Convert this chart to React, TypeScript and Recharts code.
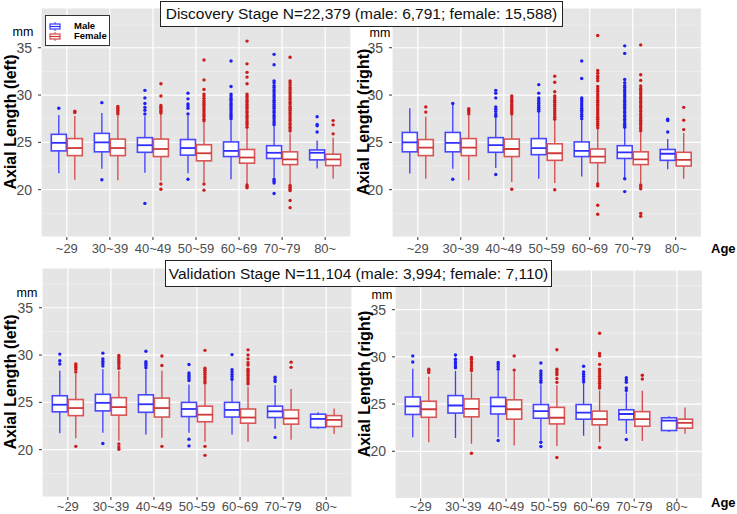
import React from 'react';
import { ComposedChart, Bar, XAxis, YAxis, CartesianGrid } from 'recharts';

const AGES = ['~29', '30~39', '40~49', '50~59', '60~69', '70~79', '80~'];
const Y_TICKS = [20, 25, 30, 35];
const Y_MINOR = [17.5, 22.5, 27.5, 32.5, 37.5];
const Y_DOMAIN = [15, 39.2];

// box stats per age group: [lower whisker, Q1, median, Q3, upper whisker]
const DISC_LEFT_MALE = [
  [21.75, 24.1, 24.95, 25.85, 27.9],
  [22.2, 24.0, 25.0, 25.95, 28.1],
  [21.8, 23.95, 24.7, 25.5, 27.75],
  [21.75, 23.65, 24.4, 25.3, 27.8],
  [21.1, 23.5, 24.1, 25.05, 27.3],
  [21.3, 23.3, 23.9, 24.65, 26.7],
  [22.25, 23.15, 23.9, 24.2, 25.2],
];
const DISC_LEFT_MALE_OUT = [
  [28.6],
  [29.2, 21.05],
  [30.5, 29.7, 29.1, 28.7, 28.4, 28.0, 18.55],
  [30.2, 29.6, 29.05, 28.85, 28.6, 28.0, 21.1],
  [33.6, 30.9, 30.1, 29.9, 29.65, 29.45, 29.2, 29.0, 28.8, 28.55, 28.35, 28.1, 27.9, 27.7, 27.5],
  [34.3, 33.2, 31.5, 31.3, 31.0, 30.8, 30.55, 30.35, 30.1, 29.9, 29.7, 29.45, 29.25, 29.0, 28.8, 28.6, 28.35, 28.15, 27.9, 27.7, 27.5, 27.25, 27.05, 26.85, 21.1, 20.9, 20.7, 19.6],
  [27.7, 26.9, 26.75, 26.1],
];
const DISC_LEFT_FEMALE = [
  [21.05, 23.6, 24.4, 25.4, 27.8],
  [21.0, 23.6, 24.4, 25.35, 27.8],
  [20.95, 23.5, 24.3, 25.35, 28.0],
  [20.8, 23.05, 23.85, 24.75, 27.05],
  [20.6, 22.8, 23.4, 24.25, 26.4],
  [20.6, 22.65, 23.2, 24.0, 25.95],
  [21.15, 22.55, 23.2, 23.75, 25.5],
];
const DISC_LEFT_FEMALE_OUT = [
  [28.3, 28.15],
  [28.8, 28.6, 28.4, 28.2, 28.0],
  [31.2, 29.9, 28.9, 28.7, 28.5, 28.3, 28.1, 20.6, 20.05],
  [33.7, 31.6, 30.6, 30.1, 29.9, 29.65, 29.4, 29.2, 29.0, 28.8, 28.55, 28.35, 28.1, 27.9, 27.7, 27.45, 27.25, 20.6, 19.95],
  [35.7, 33.3, 32.4, 31.9, 31.2, 30.1, 29.9, 29.7, 29.45, 29.25, 29.0, 28.8, 28.6, 28.35, 28.15, 27.9, 27.7, 27.5, 27.25, 27.05, 26.85, 26.6, 20.5, 20.3, 20.2],
  [34.0, 31.5, 31.3, 31.05, 30.8, 30.6, 30.35, 30.15, 29.9, 29.7, 29.5, 29.25, 29.05, 28.8, 28.6, 28.4, 28.15, 27.95, 27.7, 27.5, 27.3, 27.05, 26.85, 26.6, 26.4, 26.2, 20.45, 20.25, 20.05, 19.9, 18.85, 18.1],
  [27.3, 26.85, 25.9],
];

const DISC_RIGHT_MALE = [
  [21.7, 24.0, 25.0, 26.05, 28.6],
  [22.2, 24.0, 24.95, 26.05, 28.95],
  [22.3, 23.95, 24.7, 25.5, 27.6],
  [21.15, 23.7, 24.4, 25.4, 28.15],
  [21.4, 23.5, 24.1, 25.05, 27.3],
  [21.35, 23.3, 23.95, 24.65, 26.5],
  [22.15, 23.1, 23.8, 24.25, 25.35],
];
const DISC_RIGHT_MALE_OUT = [
  [],
  [29.1, 21.1],
  [30.5, 30.2, 29.7, 28.75, 28.5, 28.25, 27.95, 27.75, 21.6],
  [31.1, 30.2, 29.7, 29.5, 29.3, 29.1, 28.9, 28.7, 28.5, 28.3],
  [33.6, 31.75, 29.7, 29.5, 29.3, 29.05, 28.85, 28.6, 28.4, 28.2, 27.95, 27.75, 27.5],
  [35.2, 34.4, 31.65, 31.3, 31.0, 30.8, 30.55, 30.35, 30.1, 29.9, 29.7, 29.45, 29.25, 29.0, 28.8, 28.6, 28.35, 28.15, 27.9, 27.7, 27.45, 27.25, 27.0, 26.8, 26.6, 21.15, 19.8],
  [27.45, 27.3, 26.1],
];
const DISC_RIGHT_FEMALE = [
  [21.15, 23.6, 24.45, 25.3, 27.7],
  [21.0, 23.6, 24.45, 25.4, 27.85],
  [20.8, 23.5, 24.3, 25.35, 27.85],
  [20.7, 23.1, 23.85, 24.85, 27.3],
  [20.7, 22.85, 23.5, 24.3, 26.4],
  [20.65, 22.65, 23.2, 24.0, 26.0],
  [21.15, 22.5, 23.15, 23.95, 26.0],
];
const DISC_RIGHT_FEMALE_OUT = [
  [28.75, 28.2],
  [28.55, 28.4, 28.2, 28.0],
  [29.9, 29.7, 29.45, 29.25, 29.0, 28.8, 28.6, 28.4, 28.2, 28.0, 20.05],
  [32.0, 31.35, 30.35, 29.9, 29.7, 29.45, 29.25, 29.0, 28.8, 28.55, 28.35, 28.1, 27.9, 27.65, 27.45, 20.0],
  [36.3, 32.6, 32.3, 32.0, 31.75, 31.5, 30.9, 30.65, 30.4, 30.15, 29.9, 29.7, 29.45, 29.25, 29.0, 28.8, 28.55, 28.35, 28.1, 27.9, 27.65, 27.45, 27.2, 27.0, 26.8, 26.55, 20.6, 20.4, 18.35, 17.4],
  [35.3, 32.15, 31.55, 30.95, 30.7, 30.5, 30.25, 30.05, 29.8, 29.6, 29.35, 29.15, 28.9, 28.7, 28.45, 28.25, 28.0, 27.8, 27.55, 27.35, 27.1, 26.9, 26.65, 26.45, 26.2, 20.5, 20.3, 20.1, 17.5, 17.2],
  [28.7, 27.35, 26.35],
];

const VALID_LEFT_MALE = [
  [21.75, 24.0, 24.75, 25.7, 28.35],
  [21.8, 24.1, 24.95, 25.85, 28.5],
  [21.6, 23.95, 24.8, 25.8, 28.45],
  [21.8, 23.5, 24.3, 25.0, 26.9],
  [21.6, 23.45, 24.2, 25.0, 27.3],
  [22.2, 23.4, 24.05, 24.6, 26.8],
  [22.2, 22.35, 23.25, 23.75, 23.95],
];
const VALID_LEFT_MALE_OUT = [
  [30.1, 29.4, 29.05],
  [30.2, 29.6, 29.35, 29.1, 28.85, 20.65],
  [30.4, 29.3, 29.1, 28.9, 28.65],
  [29.0, 28.1, 27.9, 27.7, 27.5, 27.3, 21.1, 20.4],
  [30.05, 28.45, 28.2, 27.95, 27.7, 27.45],
  [27.65, 27.4, 27.2, 21.3],
  [],
];
const VALID_LEFT_FEMALE = [
  [21.2, 23.6, 24.4, 25.3, 28.0],
  [20.95, 23.65, 24.5, 25.5, 28.35],
  [21.25, 23.45, 24.4, 25.45, 28.35],
  [20.85, 22.95, 23.7, 24.6, 26.85],
  [20.85, 22.8, 23.4, 24.3, 26.65],
  [21.05, 22.7, 23.3, 24.2, 26.4],
  [21.65, 22.45, 23.15, 23.6, 24.35],
];
const VALID_LEFT_FEMALE_OUT = [
  [29.05, 28.9, 28.7, 28.5, 28.2, 20.35],
  [29.95, 29.75, 29.5, 29.3, 29.1, 28.85, 28.6, 20.6, 20.3, 20.05],
  [29.9, 28.9, 20.35],
  [30.5, 28.6, 28.4, 28.15, 27.95, 27.7, 27.5, 27.25, 27.05, 20.35, 19.4],
  [30.55, 30.0, 29.6, 29.2, 28.95, 28.5, 28.3, 28.05, 27.85, 27.6, 27.4, 27.15, 26.95],
  [29.25, 28.7],
  [],
];

const VALID_RIGHT_MALE = [
  [21.5, 23.9, 24.75, 25.75, 28.75],
  [21.4, 24.05, 24.85, 25.9, 28.5],
  [21.5, 23.95, 24.75, 25.7, 28.5],
  [21.15, 23.5, 24.25, 24.95, 27.1],
  [21.65, 23.4, 24.1, 24.95, 27.2],
  [21.85, 23.35, 23.95, 24.4, 26.25],
  [22.05, 22.2, 23.25, 23.55, 23.7],
];
const VALID_RIGHT_MALE_OUT = [
  [30.1, 29.45],
  [30.2, 29.75, 29.5, 29.3, 29.05, 28.85],
  [29.4, 29.2, 28.95, 28.7, 21.15],
  [29.35, 28.5, 28.25, 28.0, 27.75, 27.5, 27.3, 20.95, 20.5],
  [29.0, 28.4, 28.15, 27.9, 27.6, 27.35],
  [27.8, 27.55, 27.3, 26.7, 26.45, 21.25],
  [],
];
const VALID_RIGHT_FEMALE = [
  [20.95, 23.6, 24.45, 25.3, 27.9],
  [20.8, 23.65, 24.5, 25.55, 28.35],
  [20.6, 23.4, 24.45, 25.45, 28.4],
  [20.55, 22.9, 23.55, 24.65, 27.0],
  [20.95, 22.8, 23.4, 24.25, 26.45],
  [21.1, 22.65, 23.4, 24.2, 26.4],
  [21.85, 22.45, 23.0, 23.4, 24.65],
];
const VALID_RIGHT_FEMALE_OUT = [
  [28.7, 28.55, 28.35],
  [29.95, 29.75, 29.5, 29.3, 29.05, 28.8, 28.55, 19.8],
  [30.1, 28.6],
  [30.75, 28.7, 28.5, 28.3, 28.1, 27.7, 27.3, 19.35],
  [32.5, 30.35, 30.1, 29.2, 28.7, 28.45, 28.2, 27.95, 27.7, 27.45, 27.2, 26.95, 26.7, 20.4],
  [28.05, 27.65],
  [],
];

const MALE = { box: '#4747ff', whisker: '#3c3cff', median: '#2e2eff', dot: '#1f1ff2' };
const FEMALE = { box: '#d85555', whisker: '#d44848', median: '#d03838', dot: '#cc1c1c' };
const FONT = '"Liberation Sans", Arial, sans-serif';

const buildRows = (m, mo, f, fo) =>
  AGES.map((age, i) => ({
    age,
    male: [m[i][0], m[i][4]],
    female: [f[i][0], f[i][4]],
    mStats: m[i],
    fStats: f[i],
    mOut: mo[i],
    fOut: fo[i],
  }));

const boxShape = (statsKey, outKey, col) => (props) => {
  const { x, y, width, height, payload } = props;
  const s = payload[statsKey];
  const lo = s[0];
  const hi = s[4];
  const py = (v) => y + ((hi - v) / (hi - lo)) * height;
  const cx = x + width / 2;
  return (
    <g>
      <line x1={cx} x2={cx} y1={py(hi)} y2={py(s[3])} stroke={col.whisker} strokeWidth={1.3} />
      <line x1={cx} x2={cx} y1={py(s[1])} y2={py(lo)} stroke={col.whisker} strokeWidth={1.3} />
      <rect x={x} y={py(s[3])} width={width} height={py(s[1]) - py(s[3])} fill="#fff" stroke={col.box} strokeWidth={1.6} />
      <line x1={x} x2={x + width} y1={py(s[2])} y2={py(s[2])} stroke={col.median} strokeWidth={1.8} />
      {payload[outKey].map((v, i) => (
        <circle key={i} cx={cx} cy={py(v)} r={1.7} fill={col.dot} />
      ))}
    </g>
  );
};

const AXIS_W = 41;
const XAXIS_H = 28;

function Panel({ left, top, w, h, rows, labelGap = 4 }) {
  const pad = w / 72;
  return (
    <div style={{ position: 'absolute', left: left - AXIS_W, top }}>
      <ComposedChart
        width={AXIS_W + w + 2}
        height={h + XAXIS_H}
        data={rows}
        margin={{ top: 0, right: 2, bottom: 0, left: 0 }}
        barSize={15}
        barGap={1}
      >
        <CartesianGrid fill="#e5e5e5" stroke="#f2f2f2" strokeWidth={0.6} vertical={false} horizontalValues={Y_MINOR} />
        <CartesianGrid stroke="#ffffff" strokeWidth={1.2} />
        <XAxis
          dataKey="age"
          interval={0}
          height={XAXIS_H}
          padding={{ left: pad, right: pad }}
          axisLine={false}
          tickSize={3}
          tickMargin={labelGap}
          tickLine={{ stroke: '#333' }}
          tick={{ fill: '#4d4d4d', fontSize: 13, fontFamily: FONT }}
        />
        <YAxis
          type="number"
          domain={Y_DOMAIN}
          ticks={Y_TICKS}
          allowDataOverflow
          width={AXIS_W}
          axisLine={false}
          tickSize={3}
          tickMargin={6}
          tickLine={{ stroke: '#333' }}
          tick={{ fill: '#4d4d4d', fontSize: 14, fontFamily: FONT }}
        />
        <Bar dataKey="male" isAnimationActive={false} shape={boxShape('mStats', 'mOut', MALE)} />
        <Bar dataKey="female" isAnimationActive={false} shape={boxShape('fStats', 'fOut', FEMALE)} />
      </ComposedChart>
    </div>
  );
}

const abs = (l, t, extra = {}) => ({ position: 'absolute', left: l, top: t, ...extra });

function YTitle({ cx, cy, text }) {
  return (
    <div
      style={abs(cx, cy, {
        transform: 'translate(-50%, -50%) rotate(-90deg)',
        whiteSpace: 'nowrap',
        fontWeight: 'bold',
        fontSize: 16,
        color: '#000',
      })}
    >
      {text}
    </div>
  );
}

function Unit({ cx, cy }) {
  return (
    <div style={abs(cx, cy, { transform: 'translate(-50%, -50%)', fontSize: 12.5, color: '#000' })}>mm</div>
  );
}

function TitleBox({ l, t, w, h, text }) {
  return (
    <div
      style={abs(l, t, {
        width: w,
        height: h,
        boxSizing: 'border-box',
        border: '1.5px solid #222',
        background: '#fff',
        display: 'flex',
        alignItems: 'center',
        justifyContent: 'center',
        fontSize: 15.5,
        color: '#111',
        whiteSpace: 'nowrap',
      })}
    >
      {text}
    </div>
  );
}

function KeyIcon({ col }) {
  return (
    <svg width={12} height={9} style={{ display: 'block' }}>
      <line x1={6} x2={6} y1={0} y2={9} stroke={col.whisker} strokeWidth={1} />
      <rect x={1} y={2} width={10} height={5} fill="#fff" stroke={col.box} strokeWidth={1.3} />
      <line x1={1} x2={11} y1={4.5} y2={4.5} stroke={col.median} strokeWidth={1.2} />
    </svg>
  );
}

export default function App() {
  const p1 = buildRows(DISC_LEFT_MALE, DISC_LEFT_MALE_OUT, DISC_LEFT_FEMALE, DISC_LEFT_FEMALE_OUT);
  const p2 = buildRows(DISC_RIGHT_MALE, DISC_RIGHT_MALE_OUT, DISC_RIGHT_FEMALE, DISC_RIGHT_FEMALE_OUT);
  const p3 = buildRows(VALID_LEFT_MALE, VALID_LEFT_MALE_OUT, VALID_LEFT_FEMALE, VALID_LEFT_FEMALE_OUT);
  const p4 = buildRows(VALID_RIGHT_MALE, VALID_RIGHT_MALE_OUT, VALID_RIGHT_FEMALE, VALID_RIGHT_FEMALE_OUT);

  return (
    <div style={{ position: 'absolute', left: 0, top: 0, width: 737, height: 514, background: '#fff', fontFamily: FONT, overflow: 'hidden' }}>
      <Panel left={41} top={8} w={310} h={229} rows={p1} />
      <Panel left={392} top={8} w={309.5} h={229} rows={p2} />
      <Panel left={42} top={268} w={310} h={229} rows={p3} labelGap={1.5} />
      <Panel left={394.5} top={270} w={307.5} h={228.5} rows={p4} labelGap={0.5} />

      <YTitle cx={11} cy={122} text="Axial Length (left)" />
      <YTitle cx={364} cy={122} text="Axial Length (right)" />
      <YTitle cx={11} cy={382} text="Axial Length (left)" />
      <YTitle cx={365} cy={384} text="Axial Length (right)" />

      <Unit cx={23} cy={32} />
      <Unit cx={380} cy={33} />
      <Unit cx={27} cy={293} />
      <Unit cx={382} cy={295} />

      <div style={abs(711, 241, { fontWeight: 'bold', fontSize: 13 })}>Age</div>
      <div style={abs(711, 495, { fontWeight: 'bold', fontSize: 13 })}>Age</div>

      <TitleBox l={160} t={1} w={403} h={26} text="Discovery Stage N=22,379 (male: 6,791; female: 15,588)" />
      <TitleBox l={165} t={260} w={387} h={27} text="Validation Stage N=11,104 (male: 3,994; female: 7,110)" />

      <div
        style={abs(45, 15, {
          width: 65,
          height: 31,
          boxSizing: 'border-box',
          border: '1.5px solid #333',
          background: '#fff',
          padding: '5px 0 0 3px',
          fontSize: 9.5,
          fontWeight: 'bold',
          lineHeight: '10px',
        })}
      >
        <div style={{ display: 'flex', alignItems: 'center', gap: 13 }}>
          <KeyIcon col={MALE} />
          <span>Male</span>
        </div>
        <div style={{ display: 'flex', alignItems: 'center', gap: 13 }}>
          <KeyIcon col={FEMALE} />
          <span>Female</span>
        </div>
      </div>
    </div>
  );
}
